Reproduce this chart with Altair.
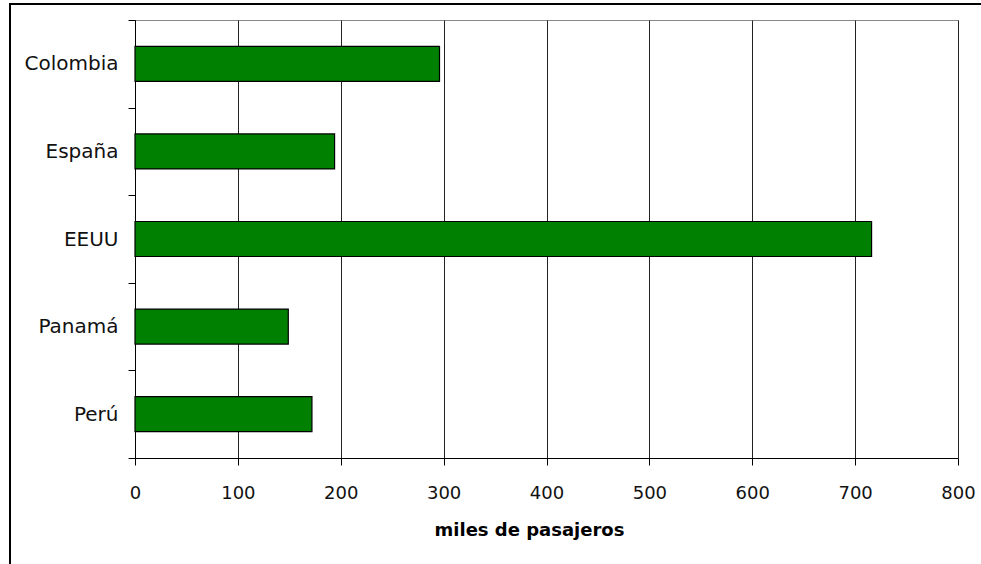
import altair as alt
import pandas as pd

# Passenger traffic by country (thousands)
paises = ["Colombia", "España", "EEUU", "Panamá", "Perú"]
pasajeros = [296, 194, 716, 149, 172]
ticks_x = [0, 100, 200, 300, 400, 500, 600, 700, 800]

df = pd.DataFrame({"pais": paises, "miles": pasajeros})

W, H = 823, 438
FONT = "DejaVu Sans"

bars = alt.Chart(df).mark_bar(
    color="#008000", stroke="#000000", strokeWidth=1.2,
    height=alt.RelativeBandSize(0.4),
).encode(
    x=alt.X(
        "miles:Q",
        scale=alt.Scale(domain=[0, 800], nice=False, zero=True),
        axis=alt.Axis(
            values=ticks_x,
            title="miles de pasajeros",
            titleFont=FONT,
            titleFontSize=18,
            titleFontWeight="bold",
            titleColor="#000000",
            titlePadding=19,
            titleX=394,
            labelFont=FONT,
            labelFontSize=18,
            labelColor="#111111",
            labelPadding=19,
            labelFlush=False,
            tickSize=7,
            tickColor="#000000",
            domainColor="#000000",
            grid=True,
            gridColor="#222222",
            gridWidth=1,
        ),
    ),
    y=alt.Y(
        "pais:N",
        sort=paises,
        scale=alt.Scale(paddingInner=0, paddingOuter=0),
        axis=alt.Axis(
            title=None,
            labelFont=FONT,
            labelFontSize=20,
            labelColor="#111111",
            labelPadding=10,
            tickSize=7,
            tickColor="#000000",
            tickBand="extent",
            domainColor="#000000",
            grid=False,
        ),
    ),
)

# Outer frame around the figure (left and top edges)
frame_left = alt.Chart(df).mark_rule(color="#000000", strokeWidth=2).encode(
    x=alt.value(-125), y=alt.value(-16), y2=alt.value(H + 200)
)
frame_top = alt.Chart(df).mark_rule(color="#000000", strokeWidth=2).encode(
    y=alt.value(-16), x=alt.value(-126), x2=alt.value(W + 200)
)

chart = alt.layer(bars, frame_left, frame_top).properties(
    width=W,
    height=H,
    autosize=alt.AutoSizeParams(type="none"),
    padding={"left": 135, "top": 20, "right": 23, "bottom": 106},
    background="#ffffff",
).configure_view(
    stroke="#888888", strokeWidth=1
)

chart.save("out.html", embed_options={"renderer": "svg", "actions": False})
